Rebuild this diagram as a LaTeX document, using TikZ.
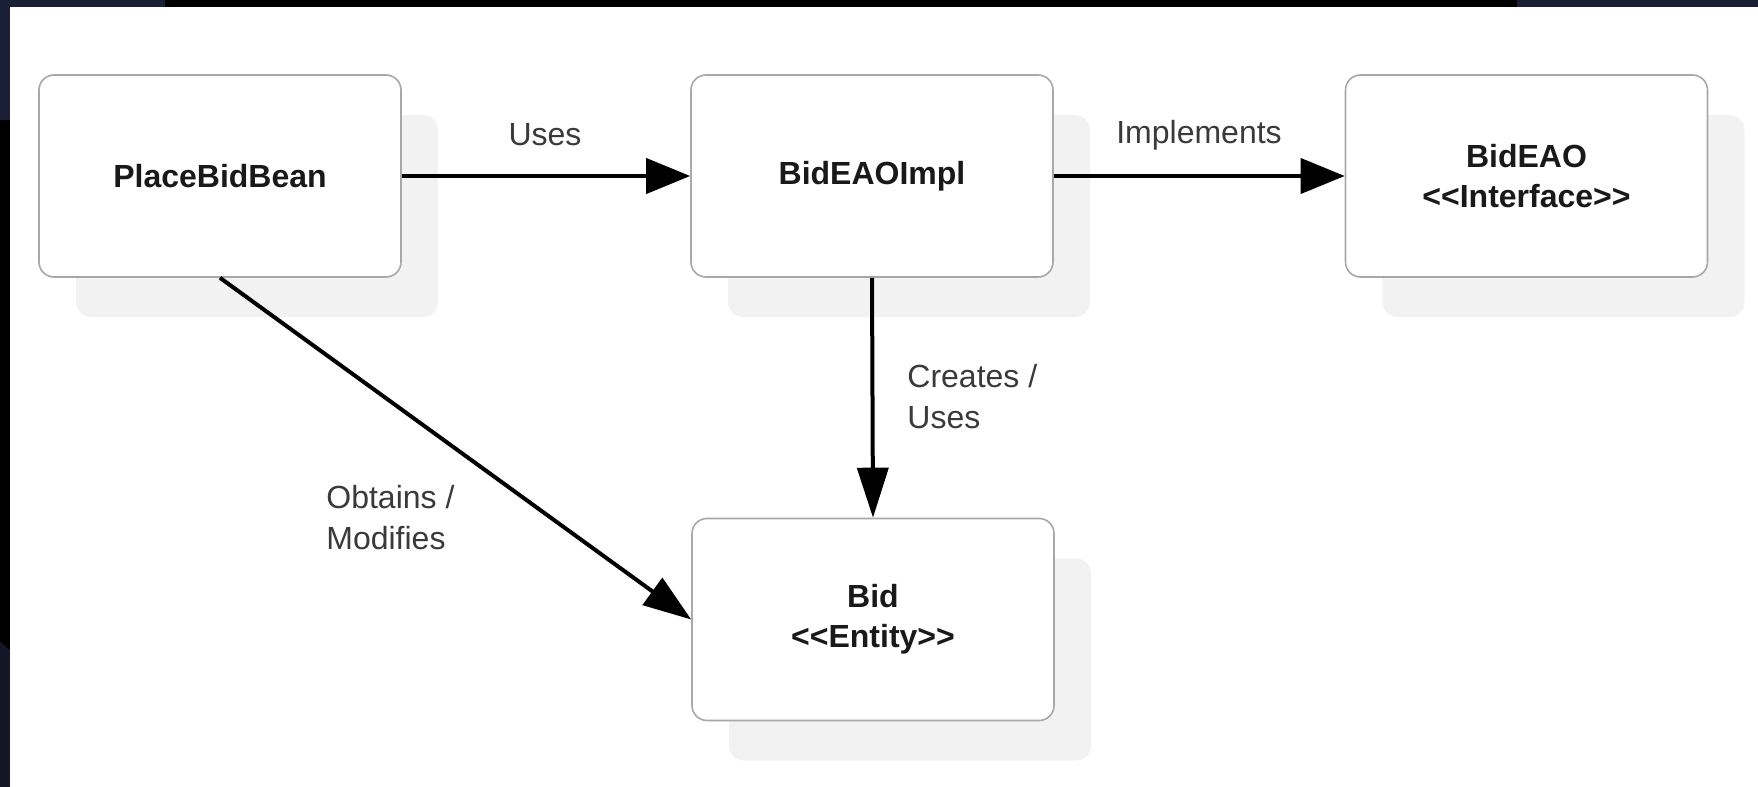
\documentclass[tikz,border=0pt]{standalone}
\usepackage{fontspec}
\setmainfont{Liberation Sans}
\usetikzlibrary{arrows.meta,shadows}
\definecolor{navyb}{HTML}{1B1F36}
\definecolor{shadowgray}{HTML}{F2F2F2}
\definecolor{boxline}{HTML}{A8A8A8}
\definecolor{labelc}{HTML}{3A3A3A}
\tikzset{
  classbox/.style={draw=boxline, line width=0.8pt, fill=white, rounded corners=7.5pt,
    minimum width=181pt, minimum height=101pt, align=center, text=black!90,
    font=\bfseries\fontsize{16}{20}\selectfont,
    general shadow={shadow xshift=18.5pt, shadow yshift=-20pt, fill=shadowgray, draw=none}},
  rel/.style={draw=black, line width=2pt},
  tiph/.style={-{Triangle[length=22pt,width=17.5pt]}},
  tipv/.style={-{Triangle[length=25pt,width=15.5pt]}},
  tipd/.style={-{Triangle[length=24pt,width=16.5pt]}},
  lbl/.style={text=labelc, align=left, font=\fontsize{16}{20.5}\selectfont, inner sep=0pt}
}
\begin{document}
\begin{tikzpicture}[x=0.5pt,y=-0.5pt]
\useasboundingbox (0,0) rectangle (1758,787);
% dark frame
\fill[black] (0,0) rectangle (1758,787);
\fill[navyb] (0,0) -- (165,0) -- (165,7) -- (10,7) -- (10,120) -- (0,120) -- cycle;
\fill[navyb] (1517,0) -- (1758,0) -- (1758,7) -- (1517,7) -- cycle;
\fill[navyb!70!black] (0,642) -- (10,650) -- (10,787) -- (0,787) -- cycle;
\fill[white] (10,7) rectangle (1758,787);
% boxes
\node[classbox] (pbb) at (220,176) {PlaceBidBean};
\node[classbox] (impl) at (872,176) {BidEAOImpl};
\node[classbox] (eao) at (1526.5,176) {BidEAO\\{<}{<}Interface{>}{>}};
\node[classbox] (bid) at (873,619.5) {Bid\\{<}{<}Entity{>}{>}};
% connectors
\draw[rel,tiph] (pbb.east) -- (impl.west);
\draw[rel,tiph] (impl.east) -- (eao.west);
\draw[rel,tipv] (impl.south) -- (bid.north);
\draw[rel,tipd] (pbb.south) -- (bid.west);
% labels
\node[lbl] (luses) at (545,135) {Uses};
\node[lbl] (limpl) at (1199,135) {Implements};
\node[lbl, anchor=west] (lcreates) at (907,397) {Creates /\\Uses};
\node[lbl, anchor=west] (lobtains) at (326,518) {Obtains /\\Modifies};
\end{tikzpicture}
\end{document}
